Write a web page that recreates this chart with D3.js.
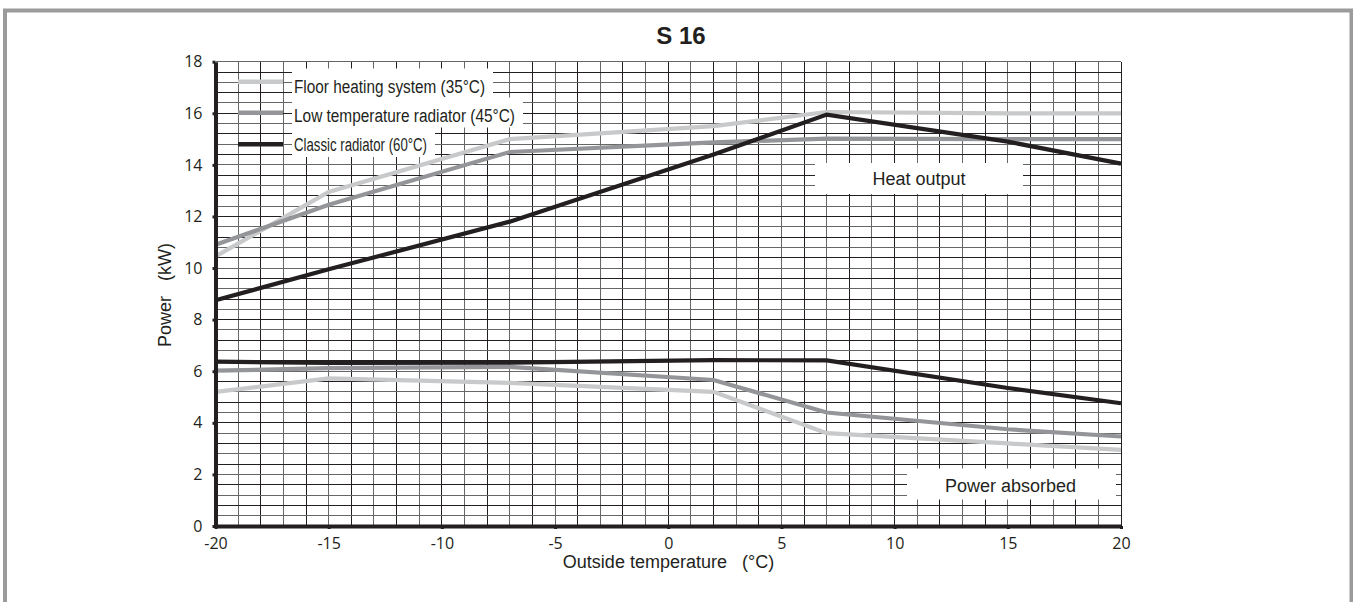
<!DOCTYPE html>
<html>
<head>
<meta charset="utf-8">
<script src="https://cdn.jsdelivr.net/npm/d3@7"></script>
<style>
  body { margin: 0; background: #fff; }
  svg { display: block; }
  .tick text { font-family: "Open Sans", "Liberation Sans", sans-serif; font-size: 16px; fill: #231f20; }
</style>
</head>
<body>
<svg id="drawing_region"></svg>
<script>
// outside temperature (°C) where the curves bend
const temps = [-20, -15, -7, 2, 7, 15, 20];

const seriesNames = ["Floor heating system (35°C)", "Low temperature radiator (45°C)", "Classic radiator (60°C)"];

// heat output (kW)
const heatFloor   = [10.45, 12.95, 15.0, 15.5, 16.05, 16.0, 16.0];
const heatLowTemp = [10.9, 12.45, 14.5, 14.87, 15.02, 15.0, 15.0];
const heatClassic = [8.75, 9.95, 11.8, 14.4, 15.95, 14.9, 14.05];

// power absorbed (kW)
const powerFloor   = [5.2, 5.72, 5.55, 5.2, 3.6, 3.2, 2.95];
const powerLowTemp = [6.02, 6.12, 6.17, 5.66, 4.4, 3.75, 3.47];
const powerClassic = [6.37, 6.32, 6.33, 6.43, 6.42, 5.35, 4.76];

const xTicks = [-20, -15, -10, -5, 0, 5, 10, 15, 20];
const yTicks = [0, 2, 4, 6, 8, 10, 12, 14, 16, 18];

const INK = '#231f20';
const colors = ['#c8c9cb', '#939598', INK];

const config = {
    parent: '#drawing_region',
    width: 1353,
    height: 602,
    x0: 215.5, x1: 1121,
    y0: 526, y1: 61.7
};

const svg = d3.select(config.parent)
    .attr('width', config.width)
    .attr('height', config.height);

// grey frame round the whole figure
svg.append('rect')
    .attr('x', 5).attr('y', 10.5)
    .attr('width', 1346.5).attr('height', 640)
    .attr('fill', 'none')
    .attr('stroke', '#9b9b9b')
    .attr('stroke-width', 4);

const xscale = d3.scaleLinear().domain([-20, 20]).range([config.x0, config.x1]);
const yscale = d3.scaleLinear().domain([0, 18]).range([config.y0, config.y1]);

// grid: 1 °C columns, 0.4 kW rows
const grid = svg.append('g').attr('shape-rendering', 'crispEdges');
grid.selectAll('line.v')
    .data(d3.range(-19, 21))
    .join('line')
    .attr('class', 'v')
    .attr('x1', d => xscale(d)).attr('x2', d => xscale(d))
    .attr('y1', yscale(0)).attr('y2', yscale(18))
    .attr('stroke', d => Math.abs(d) % 2 === 0 ? INK : '#666')
    .attr('stroke-width', 1);

grid.selectAll('line.h')
    .data(d3.range(1, 46))
    .join('line')
    .attr('class', 'h')
    .attr('x1', xscale(-20)).attr('x2', xscale(20))
    .attr('y1', i => yscale(i * 0.4)).attr('y2', i => yscale(i * 0.4))
    .attr('stroke', i => i % 2 === 0 ? INK : '#666')
    .attr('stroke-width', 1);

// white boxes that hide the grid behind the labels
const boxes = [
    { x: 815, y: 163, w: 208, h: 31 },
    { x: 907, y: 468.5, w: 209, h: 31 }
];
svg.selectAll('rect.box')
    .data(boxes)
    .join('rect')
    .attr('class', 'box')
    .attr('x', d => d.x).attr('y', d => d.y)
    .attr('width', d => d.w).attr('height', d => d.h)
    .attr('fill', '#fff');

// legend
const legendLineY = [81.7, 112.7, 144.3];
const legendBase = [92.5, 121.5, 151];
const legendLen = [191, 221, 133];
const legend = svg.append('g');
legend.selectAll('rect')
    .data(seriesNames)
    .join('rect')
    .attr('x', 292)
    .attr('y', (d, i) => legendBase[i] - 24)
    .attr('width', (d, i) => legendLen[i] + 10)
    .attr('height', 30)
    .attr('fill', '#fff');
legend.selectAll('line')
    .data(seriesNames)
    .join('line')
    .attr('x1', 238).attr('x2', 283)
    .attr('y1', (d, i) => legendLineY[i]).attr('y2', (d, i) => legendLineY[i])
    .attr('stroke', (d, i) => colors[i])
    .attr('stroke-width', 4.5);
legend.selectAll('text')
    .data(seriesNames)
    .join('text')
    .attr('x', 294)
    .attr('y', (d, i) => legendBase[i])
    .attr('textLength', (d, i) => legendLen[i])
    .attr('lengthAdjust', 'spacingAndGlyphs')
    .style('font-family', '"Liberation Sans", Arial, sans-serif')
    .style('font-size', '18px')
    .attr('fill', INK)
    .text(d => d);

// curves
const line = d3.line()
    .x((d, i) => xscale(temps[i]))
    .y(d => yscale(d));

const curves = [
    { values: powerFloor, c: 0 },
    { values: powerLowTemp, c: 1 },
    { values: powerClassic, c: 2 },
    { values: heatFloor, c: 0 },
    { values: heatLowTemp, c: 1 },
    { values: heatClassic, c: 2 }
];
svg.append('g').selectAll('path')
    .data(curves)
    .join('path')
    .attr('d', d => line(d.values))
    .attr('fill', 'none')
    .attr('stroke', d => colors[d.c])
    .attr('stroke-width', 4.2);

// axes
const xaxis = d3.axisBottom(xscale).tickValues(xTicks).tickFormat(d => String(d))
    .tickSize(3).tickSizeOuter(0).tickPadding(9);
const yaxis = d3.axisLeft(yscale).tickValues(yTicks).tickFormat(d => String(d))
    .tickSize(3).tickSizeOuter(0).tickPadding(10);

const xaxis_group = svg.append('g')
    .attr('transform', `translate(0, ${config.y0})`)
    .call(xaxis);
const yaxis_group = svg.append('g')
    .attr('transform', `translate(${config.x0}, 0)`)
    .call(yaxis);

[xaxis_group, yaxis_group].forEach(g => {
    g.attr('font-size', 16).attr('font-family', '"Open Sans", sans-serif');
    g.select('.domain').attr('stroke', INK).attr('stroke-width', 4);
    g.selectAll('.tick line').attr('stroke', INK).attr('stroke-width', 3);
    g.selectAll('.tick text')
        .attr('fill', INK)
        .attr('font-size', 16);
});

// annotation text
svg.append('text')
    .attr('x', 919).attr('y', 185)
    .attr('text-anchor', 'middle')
    .style('font-family', '"Liberation Sans", Arial, sans-serif')
    .style('font-size', '18px')
    .attr('fill', INK)
    .text('Heat output');
svg.append('text')
    .attr('x', 1010.5).attr('y', 492.3)
    .attr('text-anchor', 'middle')
    .style('font-family', '"Liberation Sans", Arial, sans-serif')
    .style('font-size', '18px')
    .attr('fill', INK)
    .text('Power absorbed');

// title and axis titles
svg.append('text')
    .attr('x', 681).attr('y', 44)
    .attr('text-anchor', 'middle')
    .style('font-family', '"Liberation Sans", Arial, sans-serif')
    .style('font-size', '24px')
    .style('font-weight', 'bold')
    .attr('fill', INK)
    .text('S 16');

svg.append('text')
    .attr('x', 668.5).attr('y', 568)
    .attr('text-anchor', 'middle')
    .style('font-family', '"Liberation Sans", Arial, sans-serif')
    .style('font-size', '18px')
    .style('white-space', 'pre')
    .attr('fill', INK)
    .text('Outside temperature   (°C)');

svg.append('text')
    .attr('transform', 'translate(171, 295) rotate(-90)')
    .attr('text-anchor', 'middle')
    .style('font-family', '"Liberation Sans", Arial, sans-serif')
    .style('font-size', '18px')
    .style('white-space', 'pre')
    .attr('fill', INK)
    .text('Power   (kW)');
</script>
</body>
</html>
